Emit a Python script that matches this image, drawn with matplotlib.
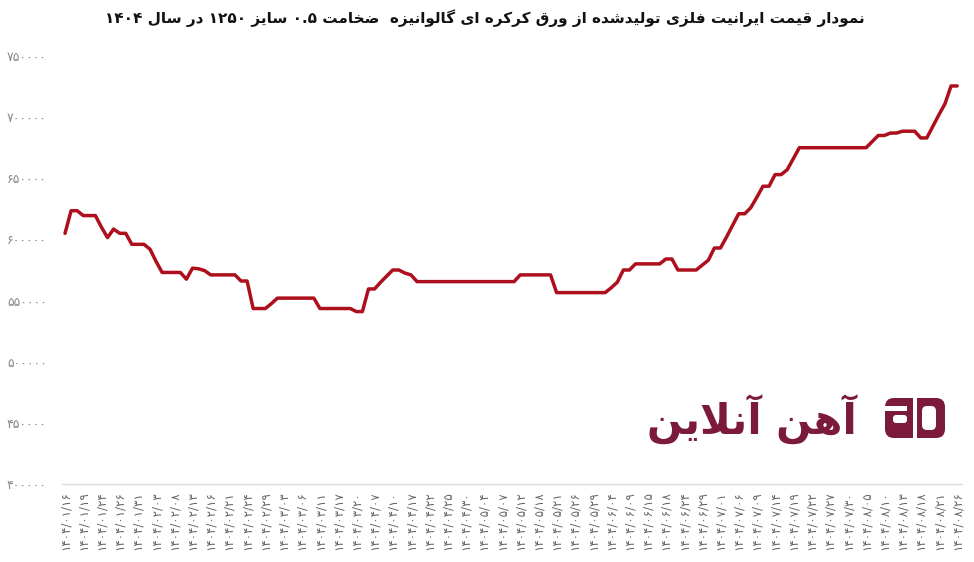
import re
import matplotlib
matplotlib.use("Agg")
import matplotlib.pyplot as plt
from matplotlib.patches import FancyBboxPatch, Rectangle

# ---------------- data ----------------
tick_dates = [
    "1404/01/16", "1404/01/19", "1404/01/24", "1404/01/26", "1404/01/31",
    "1404/02/03", "1404/02/08", "1404/02/13", "1404/02/16", "1404/02/21",
    "1404/02/24", "1404/02/29", "1404/03/03", "1404/03/06", "1404/03/11",
    "1404/03/17", "1404/03/20", "1404/04/07", "1404/04/10", "1404/04/17",
    "1404/04/22", "1404/04/25", "1404/04/30", "1404/05/04", "1404/05/07",
    "1404/05/12", "1404/05/18", "1404/05/21", "1404/05/26", "1404/05/29",
    "1404/06/04", "1404/06/09", "1404/06/15", "1404/06/18", "1404/06/24",
    "1404/06/29", "1404/07/01", "1404/07/06", "1404/07/09", "1404/07/14",
    "1404/07/19", "1404/07/22", "1404/07/27", "1404/07/30", "1404/08/05",
    "1404/08/10", "1404/08/13", "1404/08/18", "1404/08/21", "1404/08/26",
]

prices = [
    605000, 623500, 623500, 619500, 619500, 619500, 610000, 601500, 608500, 605000,
    605000, 596000, 596000, 596000, 592000, 582000, 573000, 573000, 573000, 573000,
    567500, 576500, 576000, 574500, 571000, 571000, 571000, 571000, 571000, 566000,
    566000, 543500, 543500, 543500, 547500, 552000, 552000, 552000, 552000, 552000,
    552000, 552000, 543500, 543500, 543500, 543500, 543500, 543500, 541000, 541000,
    559500, 559500, 565000, 570000, 575000, 575000, 572500, 571000, 565500, 565500,
    565500, 565500, 565500, 565500, 565500, 565500, 565500, 565500, 565500, 565500,
    565500, 565500, 565500, 565500, 565500, 571000, 571000, 571000, 571000, 571000,
    571000, 556500, 556500, 556500, 556500, 556500, 556500, 556500, 556500, 556500,
    560500, 565000, 575000, 575000, 580000, 580000, 580000, 580000, 580000, 584000,
    584000, 575000, 575000, 575000, 575000, 579000, 583000, 593000, 593000, 602000,
    611500, 621000, 621000, 626000, 634500, 643500, 643500, 653000, 653000, 657000,
    666000, 675000, 675000, 675000, 675000, 675000, 675000, 675000, 675000, 675000,
    675000, 675000, 675000, 680000, 685000, 685000, 687000, 687000, 688500, 688500,
    688500, 683000, 683000, 692500, 702000, 711000, 725500, 725500,
]
points_per_tick = 3

y_ticks = [400000, 450000, 500000, 550000, 600000, 650000, 700000, 750000]

title_text = "نمودار قیمت ایرانیت فلزی تولیدشده از ورق کرکره ای گالوانیزه  ضخامت ۰.۵ سایز ۱۲۵۰ در سال ۱۴۰۴"
logo_text = "آهن آنلاین"

# ---------------- simple Persian shaping ----------------
FORMS = {  # isolated, final, initial, medial
    '\u0627': ('\uFE8D', '\uFE8E', None, None),
    '\u0622': ('\uFE81', '\uFE82', None, None),
    '\u0628': ('\uFE8F', '\uFE90', '\uFE91', '\uFE92'),
    '\u062A': ('\uFE95', '\uFE96', '\uFE97', '\uFE98'),
    '\u062E': ('\uFEA5', '\uFEA6', '\uFEA7', '\uFEA8'),
    '\u062F': ('\uFEA9', '\uFEAA', None, None),
    '\u0631': ('\uFEAD', '\uFEAE', None, None),
    '\u0632': ('\uFEAF', '\uFEB0', None, None),
    '\u0633': ('\uFEB1', '\uFEB2', '\uFEB3', '\uFEB4'),
    '\u0634': ('\uFEB5', '\uFEB6', '\uFEB7', '\uFEB8'),
    '\u0636': ('\uFEBD', '\uFEBE', '\uFEBF', '\uFEC0'),
    '\u0641': ('\uFED1', '\uFED2', '\uFED3', '\uFED4'),
    '\u0642': ('\uFED5', '\uFED6', '\uFED7', '\uFED8'),
    '\u0644': ('\uFEDD', '\uFEDE', '\uFEDF', '\uFEE0'),
    '\u0645': ('\uFEE1', '\uFEE2', '\uFEE3', '\uFEE4'),
    '\u0646': ('\uFEE5', '\uFEE6', '\uFEE7', '\uFEE8'),
    '\u0647': ('\uFEE9', '\uFEEA', '\uFEEB', '\uFEEC'),
    '\u0648': ('\uFEED', '\uFEEE', None, None),
    '\u06CC': ('\uFBFC', '\uFBFD', '\uFBFE', '\uFBFF'),
    '\u06A9': ('\uFB8E', '\uFB8F', '\uFB90', '\uFB91'),
    '\u06AF': ('\uFB92', '\uFB93', '\uFB94', '\uFB95'),
    '\uFEFB': ('\uFEFB', '\uFEFC', None, None),  # lam-alef
}


def shape(text):
    text = text.replace('\u0644\u0627', '\uFEFB')
    out = []
    n = len(text)
    for i, c in enumerate(text):
        if c not in FORMS:
            out.append(c)
            continue
        iso, fin, ini, med = FORMS[c]
        prev = text[i - 1] if i > 0 else ''
        nxt = text[i + 1] if i + 1 < n else ''
        jp = prev in FORMS and FORMS[prev][2] is not None
        jn = ini is not None and nxt in FORMS
        if jp and jn:
            out.append(med)
        elif jp:
            out.append(fin)
        elif jn:
            out.append(ini)
        else:
            out.append(iso)
    s = ''.join(out)[::-1]
    s = re.sub(r'[۰-۹0-9]+(?:[./][۰-۹0-9]+)*', lambda m: m.group(0)[::-1], s)
    return s


FA_DIGITS = str.maketrans('0123456789', '۰۱۲۳۴۵۶۷۸۹')


def fa(s):
    return str(s).translate(FA_DIGITS)


# ---------------- figure ----------------
plt.rcParams['font.family'] = ['DejaVu Sans']
fig = plt.figure(figsize=(9.74, 5.62), dpi=100)
fig.patch.set_facecolor('white')
ax = fig.add_axes([62 / 974, 1 - 484 / 562, 900 / 974, 428 / 562])

# logo (watermark) behind the line
fig.text(752 / 974, 1 - 420 / 562, shape(logo_text), fontsize=30, fontweight='bold',
         color='#7b1a3a', ha='center', va='center', zorder=0)
lax = fig.add_axes([884 / 974, 1 - 440 / 562, 62 / 974, 44 / 562])
lax.set_xlim(0, 62)
lax.set_ylim(0, 44)
lax.axis('off')
lax.add_patch(FancyBboxPatch((1, 2), 60, 40, boxstyle='round,pad=0,rounding_size=9',
                             fc='#7b1a3a', ec='none'))
lax.add_patch(FancyBboxPatch((38, 10), 14, 24, boxstyle='round,pad=0,rounding_size=5',
                             fc='white', ec='none'))
lax.add_patch(Rectangle((29, 2), 4, 40, fc='white', ec='none'))
lax.add_patch(FancyBboxPatch((9, 17), 14, 8, boxstyle='round,pad=0,rounding_size=3',
                             fc='white', ec='none'))
lax.add_patch(Rectangle((1, 29), 22, 5, fc='white', ec='none'))

x = list(range(len(prices)))
ax.plot(x, prices, color='#ad0f1c', linewidth=2.5, solid_joinstyle='round',
        solid_capstyle='round', zorder=3)

ax.set_xlim(-0.5, 147.8)
ax.set_ylim(400000, 750000)
ax.patch.set_alpha(0)

tick_pos = [i * points_per_tick for i in range(len(tick_dates))]
ax.set_xticks(tick_pos)
ax.set_xticklabels([fa(d) for d in tick_dates], rotation=90, fontsize=8.6, color='#666666')
ax.set_yticks(y_ticks)
ax.set_yticklabels([fa(v) for v in y_ticks], fontsize=9, color='#888888')
ax.tick_params(axis='x', length=0, pad=5)
ax.tick_params(axis='y', length=0, pad=11)
for side in ('left', 'right', 'top'):
    ax.spines[side].set_visible(False)
ax.spines['bottom'].set_color('#dddddd')
ax.spines['bottom'].set_linewidth(1)

fig.text(485 / 974, 1 - 18 / 562, shape(title_text), fontsize=11, fontweight='bold',
         color='#111111', ha='center', va='center')

fig.savefig('out.png', dpi=100, facecolor='white')
